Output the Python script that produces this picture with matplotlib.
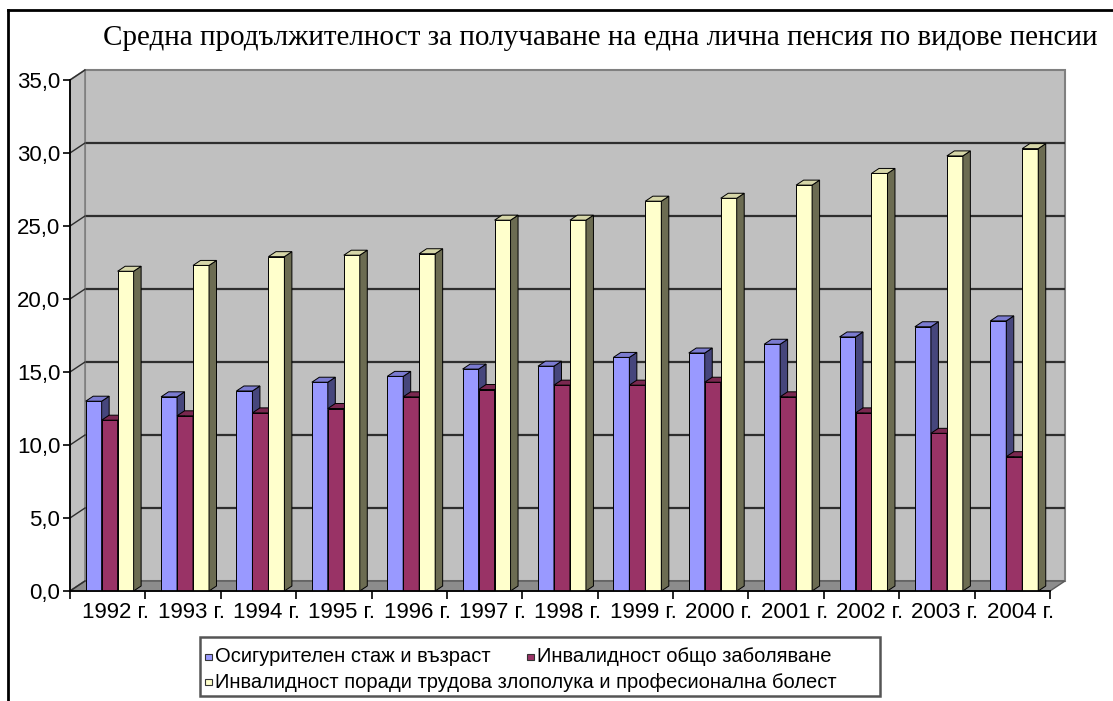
import numpy as np
import matplotlib
matplotlib.use("Agg")
import matplotlib.pyplot as plt
from matplotlib.patches import Polygon, Rectangle
from matplotlib.lines import Line2D
from matplotlib.transforms import ScaledTranslation

# ---- data -------------------------------------------------------------
title = "Средна продължителност за получаване на една лична пенсия по видове пенсии"
years = ["1992 г.", "1993 г.", "1994 г.", "1995 г.", "1996 г.", "1997 г.", "1998 г.",
         "1999 г.", "2000 г.", "2001 г.", "2002 г.", "2003 г.", "2004 г."]
series_names = ["Осигурителен стаж и възраст",
                "Инвалидност общо заболяване",
                "Инвалидност поради трудова злополука и професионална болест"]
seniority_age = [13.0, 13.3, 13.7, 14.3, 14.7, 15.2, 15.4, 16.0, 16.3, 16.9, 17.4, 18.1, 18.5]
general_disease = [11.7, 12.0, 12.2, 12.5, 13.3, 13.8, 14.1, 14.1, 14.3, 13.3, 12.2, 10.8, 9.2]
work_accident = [21.9, 22.3, 22.9, 23.0, 23.1, 25.4, 25.4, 26.7, 26.9, 27.8, 28.6, 29.8, 30.3]
y_ticks = [0, 5, 10, 15, 20, 25, 30, 35]

series = [seniority_age, general_disease, work_accident]
front_colors = ["#9999FF", "#993366", "#FFFFCC"]
side_colors = ["#46467C", "#561C3A", "#6C6C52"]
top_colors = ["#7B7BD0", "#7A2850", "#D6D6A8"]

# ---- figure geometry (pixels) ---------------------------------------
W, H, DPI = 1113, 701, 100
fig = plt.figure(figsize=(W / DPI, H / DPI), dpi=DPI)
fig.patch.set_facecolor("white")

def fx(x):
    return x / W

def fy(y):
    return 1 - y / H

ax_left, ax_right, ax_bottom, ax_top = 70, 1050, 591, 80
ax = fig.add_axes([fx(ax_left), fy(ax_bottom), (ax_right - ax_left) / W, (ax_bottom - ax_top) / H])
ax.set_facecolor("none")
n = len(years)
ax.set_xlim(0, n)
ax.set_ylim(0, 35)

WALL_DX, WALL_DY = 15, 10      # depth of the back wall, px
BAR_DX, BAR_DY = 7.5, 5        # depth of each column, px

def shifted(x, y, dx, dy):
    X, Y = ax.transData.transform((x, y))
    return tuple(ax.transData.inverted().transform((X + dx, Y + dy)))

wall_trans = ax.transData + ScaledTranslation(WALL_DX / DPI, WALL_DY / DPI, fig.dpi_scale_trans)

# back wall, side wall and floor
ax.add_patch(Rectangle((0, 0), n, 35, transform=wall_trans, facecolor="#C0C0C0",
                       edgecolor="#808080", lw=1.5, zorder=0, clip_on=False))
side = [(0, 0), shifted(0, 0, WALL_DX, WALL_DY), shifted(0, 35, WALL_DX, WALL_DY), (0, 35)]
ax.add_patch(Polygon(side, closed=True, facecolor="#C0C0C0", edgecolor="#808080",
                     lw=1.2, zorder=0.5, clip_on=False))
floor = [(0, 0), (n, 0), shifted(n, 0, WALL_DX, WALL_DY), shifted(0, 0, WALL_DX, WALL_DY)]
ax.add_patch(Polygon(floor, closed=True, facecolor="#8C8C8C", edgecolor="#5A5A5A",
                     lw=1.0, zorder=0.6, clip_on=False))

# gridlines on the back wall, continued diagonally across the side wall
for v in y_ticks[1:-1]:
    ax.plot([0, n], [v, v], transform=wall_trans, color="#2E2E2E", lw=1.6,
            zorder=0.4, clip_on=False, solid_capstyle="butt")
for v in y_ticks:
    p = shifted(0, v, WALL_DX, WALL_DY)
    ax.plot([0, p[0]], [v, p[1]], color="#2E2E2E", lw=1.0, zorder=0.7, clip_on=False)

# columns
bar_w = 0.212
group_off = 0.208
z = 2
for i in range(n):
    for j, vals in enumerate(series):
        left = i + group_off + j * bar_w
        right = left + bar_w
        v = vals[i]
        ax.bar(left, v, bar_w, align="edge", color=front_colors[j], edgecolor="black",
               lw=0.7, zorder=z)
        side_face = [(right, 0), (right, v), shifted(right, v, BAR_DX, BAR_DY),
                     shifted(right, 0, BAR_DX, BAR_DY)]
        ax.add_patch(Polygon(side_face, closed=True, facecolor=side_colors[j],
                             edgecolor="black", lw=0.7, zorder=z))
        top_face = [(left, v), (right, v), shifted(right, v, BAR_DX, BAR_DY),
                    shifted(left, v, BAR_DX, BAR_DY)]
        ax.add_patch(Polygon(top_face, closed=True, facecolor=top_colors[j],
                             edgecolor="black", lw=0.7, zorder=z))
        z += 0.01

# axes lines and ticks
for s in ["top", "right"]:
    ax.spines[s].set_visible(False)
for s in ["left", "bottom"]:
    ax.spines[s].set_color("black")
    ax.spines[s].set_linewidth(1.3)
    ax.spines[s].set_zorder(5)

tick_font = dict(family="Liberation Sans", size=16)
ax.set_yticks(y_ticks)
ax.set_yticklabels([f"{v:.1f}".replace(".", ",") for v in y_ticks], **tick_font)
ax.tick_params(axis="y", direction="out", length=5, width=1.2, pad=2, colors="black")

ax.set_xticks(np.arange(n + 1))
ax.set_xticklabels([])
ax.tick_params(axis="x", which="major", direction="out", length=6, width=1.2)
ax.set_xticks(np.arange(n) + 0.5, minor=True)
ax.set_xticklabels(years, minor=True, **tick_font)
ax.tick_params(axis="x", which="minor", length=0, pad=8)
label_shift = ScaledTranslation(8 / DPI, 0, fig.dpi_scale_trans)
for lab in ax.get_xticklabels(minor=True):
    lab.set_transform(lab.get_transform() + label_shift)

# title
fig.text(fx(600), fy(38), title, ha="center", va="center",
         family="Liberation Serif", size=21, color="black")

# outer frame
fig.add_artist(Line2D([fx(8), 1], [fy(10), fy(10)], color="black", lw=2))
fig.add_artist(Line2D([fx(8), fx(8)], [fy(10), 0], color="black", lw=2))

# legend box
lx0, ly0, lx1, ly1 = 200, 637, 880, 696
fig.add_artist(Rectangle((fx(lx0), fy(ly1)), (lx1 - lx0) / W, (ly1 - ly0) / H,
                         transform=fig.transFigure, facecolor="white",
                         edgecolor="#555555", lw=1.8))
legend_font = dict(family="Liberation Sans", size=14.5)
entries = [(205, 657, 0), (527, 657, 1), (205, 682, 2)]
for x, y, k in entries:
    fig.add_artist(Rectangle((fx(x), fy(y + 3)), 7 / W, 6 / H, transform=fig.transFigure,
                             facecolor=front_colors[k], edgecolor="#333333", lw=0.8))
    fig.text(fx(x + 10), fy(y), series_names[k], ha="left", va="center", **legend_font)

fig.savefig("out.png", dpi=DPI)
